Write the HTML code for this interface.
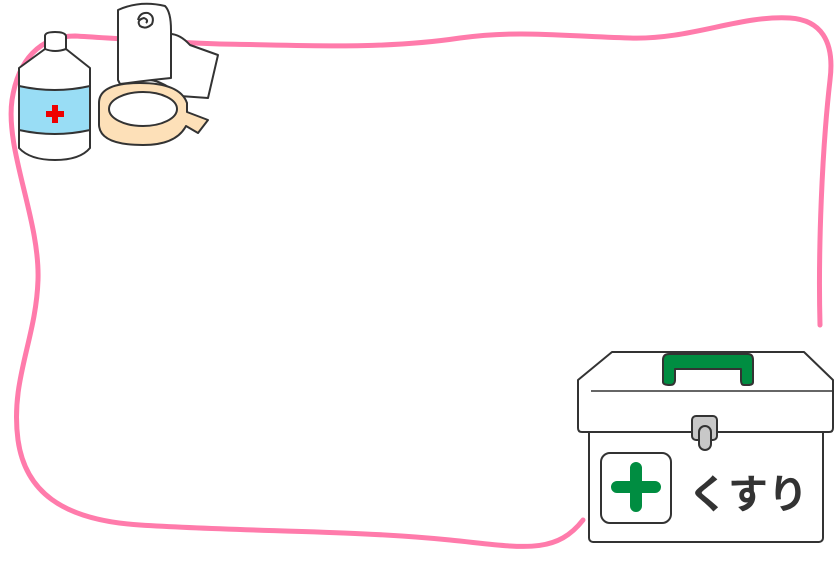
<!DOCTYPE html>
<html><head><meta charset="utf-8"><style>
html,body{margin:0;padding:0;background:#fff;width:840px;height:568px;overflow:hidden}
</style></head><body>
<svg width="840" height="568" viewBox="0 0 840 568" xmlns="http://www.w3.org/2000/svg">
<path d="M820,325 C818,250 822,150 830,80 C835,40 820,20 790,18 C740,15 690,40 630,38 C560,36 520,30 460,38 C380,50 300,45 220,44 C160,42 110,38 75,36 C40,36 18,60 12,100 C5,150 40,220 38,280 C36,340 10,380 18,440 C25,490 60,520 140,525 C250,532 350,530 450,540 C520,547 555,556 583,520" fill="none" stroke="#ff7bab" stroke-width="5" stroke-linecap="round"/>
<g stroke="#333" stroke-width="2" stroke-linejoin="round">
<path d="M45,36 Q45,32 55,32 Q65,32 66,36 L66,49 L90,68 L90,148 Q80,160 55,160 Q30,160 19,148 L19,68 L45,49 Z" fill="#fff"/>
<path d="M19,86 Q55,94 90,86 L90,130 Q55,138 19,130 Z" fill="#99ddf5"/>
<path d="M45,49 Q55,53 66,49" fill="none"/>
</g>
<path d="M46,112 h6 v-6 h6 v6 h6 v6 h-6 v6 h-6 v-6 h-6 z" fill="#ee0000" transform="translate(0,-1)"/>
<g stroke="#333" stroke-width="2" stroke-linejoin="round">
<!-- bandage roll -->
<path d="M170,34 Q180,34 190,45 L218,55 L208,98 L180,96 Q165,82 150,80 L170,60 Z" fill="#fff"/>
<path d="M118,10 Q140,0 165,6 Q171,12 171,30 L171,78 Q150,80 120,84 L118,80 Z" fill="#fff"/>
<path d="M125,8 Q145,20 166,20" fill="none" stroke-width="0"/>
<path d="M138,20 Q140,12 148,13 Q155,16 152,24 Q146,30 140,26 Q136,20 144,18 Q149,20 146,23" fill="none"/>
<!-- tape -->
<path d="M99,103 Q99,83 140,83 Q180,83 187,103 L187,112 L208,120 L198,133 L186,126 Q176,145 143,145 Q100,145 99,125 Z" fill="#fde0b8"/>
<ellipse cx="143" cy="109" rx="34" ry="17" fill="#fff"/>
</g>
<g stroke="#333" stroke-width="2" stroke-linejoin="round">
<rect x="589" y="425" width="234" height="117" rx="4" fill="#fff"/>
<path d="M612,352 L804,352 L833,380 L833,428 Q833,432 829,432 L582,432 Q578,432 578,428 L578,380 Z" fill="#fff"/>
<line x1="591" y1="391" x2="833" y2="391" stroke-width="1.5"/>
<path d="M663,382 L663,360 Q663,354 669,354 L748,354 Q753,354 753,360 L753,382 Q753,385 748,385 L744,385 Q741,385 741,380 L741,369 L675,369 L675,380 Q675,385 670,385 Q663,385 663,382 Z" fill="#008d41"/>
<rect x="692" y="416" width="25" height="24" rx="4" fill="#c8c8c8"/>
<rect x="699" y="426" width="12" height="24" rx="6" fill="#c8c8c8"/>
<rect x="601" y="453" width="70" height="70" rx="9" fill="#fff"/>
</g>
<path d="M636,468 v38 M617,487 h38" stroke="#008d41" stroke-width="12" stroke-linecap="round"/>
<text x="688" y="508" font-family="'Liberation Sans','Noto Sans CJK JP',sans-serif" font-size="40" font-weight="bold" fill="#333">くすり</text>
</svg>
</body></html>
